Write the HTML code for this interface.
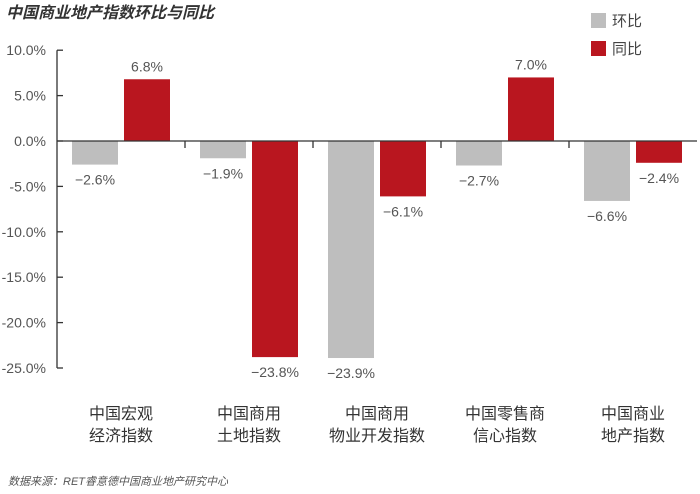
<!DOCTYPE html>
<html><head><meta charset="utf-8">
<style>
body{margin:0;background:#fff;width:700px;height:489px;overflow:hidden;font-family:"Liberation Sans","Noto Sans CJK SC",sans-serif;}
</style></head><body>
<svg width="700" height="489" xmlns="http://www.w3.org/2000/svg" font-family="Liberation Sans, Noto Sans CJK SC, sans-serif">
<text x="6" y="18" font-size="16" font-style="italic" font-weight="bold" fill="#333">中国商业地产指数环比与同比</text>
<g>
<rect x="591" y="13" width="15" height="15" fill="#bebebe"/>
<text x="612" y="26" font-size="15" fill="#444">环比</text>
<rect x="591" y="41" width="15" height="15" fill="#b9161f"/>
<text x="612" y="54" font-size="15" fill="#444">同比</text>
</g>
<g id="plot"></g>
<text x="8" y="485" font-size="11" font-style="italic" fill="#555">数据来源：RET睿意德中国商业地产研究中心</text>
</svg>
<script>
const categories=[["中国宏观","经济指数"],["中国商用","土地指数"],["中国商用","物业开发指数"],["中国零售商","信心指数"],["中国商业","地产指数"]];
const momValues=[-2.6,-1.9,-23.9,-2.7,-6.6];
const yoyValues=[6.8,-23.8,-6.1,7.0,-2.4];
const yTicks=[10,5,0,-5,-10,-15,-20,-25];
const NS="http://www.w3.org/2000/svg";
const g=document.getElementById('plot');
const x0=57,gw=128,zeroY=141,ppu=9.08;
const y=v=>zeroY-v*ppu;
function mk(t,a){const e=document.createElementNS(NS,t);for(const k in a)e.setAttribute(k,a[k]);g.appendChild(e);return e;}
// axis
let ax=mk('line',{x1:x0,y1:y(10),x2:x0,y2:y(-25),stroke:'#333','stroke-width':1.3});


yTicks.forEach(t=>{
 let l=mk('line',{x1:x0,y1:y(t),x2:x0+6,y2:y(t),stroke:'#333','stroke-width':1.3});
 
 
 let tx=mk('text',{x:46,y:y(t)+5,'font-size':14,fill:'#555','text-anchor':'end'});
 tx.textContent=t.toFixed(1)+'%';
 
 
});
function fmt(v){return (v<0?'\u2212'+(-v).toFixed(1):v.toFixed(1))+'%';}
categories.forEach((c,i)=>{
 const gx=x0+i*gw;
 [[momValues[i],15,'#bebebe','bar-mom'],[yoyValues[i],67,'#b9161f','bar-yoy']].forEach(([v,off,col,nm])=>{
  const top=Math.min(y(v),zeroY),h=Math.abs(y(v)-zeroY);
  let r=mk('rect',{x:gx+off,y:top,width:46,height:h,fill:col});
  
  
  let tx=mk('text',{x:gx+off+23,y:v>=0?y(v)-8:y(v)+20,'font-size':14,fill:'#555','text-anchor':'middle'});
  tx.textContent=fmt(v);
  
  
 });
 if(i>0){let t=mk('line',{x1:gx,y1:zeroY,x2:gx,y2:zeroY+7,stroke:'#333','stroke-width':1.3});
  
  }
 c.forEach((line,j)=>{
  let tx=mk('text',{x:gx+64,y:419+j*22,'font-size':16,fill:'#333','text-anchor':'middle'});
  tx.textContent=line;
  
  
 });
});
let z=mk('line',{x1:x0,y1:zeroY,x2:x0+5*gw,y2:zeroY,stroke:'#333','stroke-width':1.3});


</script>
</body></html>
